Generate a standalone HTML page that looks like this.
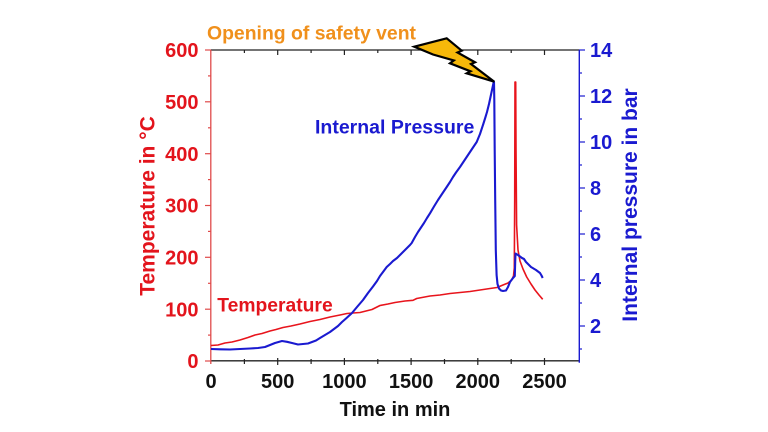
<!DOCTYPE html>
<html><head><meta charset="utf-8"><style>
html,body{margin:0;padding:0;background:#fff;}
svg{display:block;}
text{font-family:"Liberation Sans",Arial,sans-serif;font-weight:bold;}
</style></head><body>
<svg width="768" height="432" viewBox="0 0 768 432" xmlns="http://www.w3.org/2000/svg">
<rect width="768" height="432" fill="#fff"/>
<!-- top axis -->
<line x1="211" y1="50" x2="579.3" y2="50" stroke="#222" stroke-width="1.3"/>
<g stroke="#222" stroke-width="1.2">
<line x1="244.4" y1="50" x2="244.4" y2="53"/><line x1="277.7" y1="50" x2="277.7" y2="55"/>
<line x1="311.1" y1="50" x2="311.1" y2="53"/><line x1="344.4" y1="50" x2="344.4" y2="55"/>
<line x1="377.8" y1="50" x2="377.8" y2="53"/><line x1="411.1" y1="50" x2="411.1" y2="55"/>
<line x1="444.5" y1="50" x2="444.5" y2="53"/><line x1="477.8" y1="50" x2="477.8" y2="55"/>
<line x1="511.2" y1="50" x2="511.2" y2="53"/><line x1="544.5" y1="50" x2="544.5" y2="55"/>
</g>
<!-- bottom axis -->
<line x1="211" y1="360.8" x2="579.3" y2="360.8" stroke="#222" stroke-width="1.3"/>
<g stroke="#222" stroke-width="1.2">
<line x1="244.4" y1="359" x2="244.4" y2="364"/><line x1="277.7" y1="358" x2="277.7" y2="365"/>
<line x1="311.1" y1="359" x2="311.1" y2="364"/><line x1="344.4" y1="358" x2="344.4" y2="365"/>
<line x1="377.8" y1="359" x2="377.8" y2="364"/><line x1="411.1" y1="358" x2="411.1" y2="365"/>
<line x1="444.5" y1="359" x2="444.5" y2="364"/><line x1="477.8" y1="358" x2="477.8" y2="365"/>
<line x1="511.2" y1="359" x2="511.2" y2="364"/><line x1="544.5" y1="358" x2="544.5" y2="365"/>
</g>
<!-- left axis -->
<line x1="210.8" y1="50" x2="210.8" y2="364" stroke="#e04a4a" stroke-width="1.3"/>
<g stroke="#e04a4a" stroke-width="1.2">
<line x1="205" y1="50" x2="211" y2="50"/><line x1="208" y1="75.9" x2="211" y2="75.9"/>
<line x1="205" y1="101.8" x2="211" y2="101.8"/><line x1="208" y1="127.8" x2="211" y2="127.8"/>
<line x1="205" y1="153.7" x2="211" y2="153.7"/><line x1="208" y1="179.6" x2="211" y2="179.6"/>
<line x1="205" y1="205.5" x2="211" y2="205.5"/><line x1="208" y1="231.4" x2="211" y2="231.4"/>
<line x1="205" y1="257.3" x2="211" y2="257.3"/><line x1="208" y1="283.3" x2="211" y2="283.3"/>
<line x1="205" y1="309.2" x2="211" y2="309.2"/><line x1="208" y1="335.1" x2="211" y2="335.1"/>
<line x1="205" y1="361" x2="211" y2="361"/>
</g>
<!-- right axis -->
<line x1="579.3" y1="50" x2="579.3" y2="362.7" stroke="#1a1ad0" stroke-width="1.4"/>
<g stroke="#1a1ad0" stroke-width="1.2">
<line x1="579" y1="50" x2="585" y2="50"/><line x1="579" y1="73" x2="582" y2="73"/>
<line x1="579" y1="96" x2="585" y2="96"/><line x1="579" y1="119" x2="582" y2="119"/>
<line x1="579" y1="142" x2="585" y2="142"/><line x1="579" y1="165" x2="582" y2="165"/>
<line x1="579" y1="188" x2="585" y2="188"/><line x1="579" y1="211" x2="582" y2="211"/>
<line x1="579" y1="234" x2="585" y2="234"/><line x1="579" y1="257" x2="582" y2="257"/>
<line x1="579" y1="280" x2="585" y2="280"/><line x1="579" y1="303" x2="582" y2="303"/>
<line x1="579" y1="326" x2="585" y2="326"/><line x1="579" y1="349" x2="582" y2="349"/>
</g>
<!-- left tick labels -->
<g fill="#e3141c" font-size="20" text-anchor="end">
<text x="198.5" y="57.2">600</text><text x="198.5" y="109">500</text>
<text x="198.5" y="160.9">400</text><text x="198.5" y="212.7">300</text>
<text x="198.5" y="264.5">200</text><text x="198.5" y="316.4">100</text>
<text x="198.5" y="368.2">0</text>
</g>
<!-- right tick labels -->
<g fill="#1a1ad0" font-size="20" text-anchor="start">
<text x="590" y="57.2">14</text><text x="590" y="103.2">12</text>
<text x="590" y="149.2">10</text><text x="590" y="195.2">8</text>
<text x="590" y="241.2">6</text><text x="590" y="287.2">4</text>
<text x="590" y="333.2">2</text>
</g>
<!-- bottom tick labels -->
<g fill="#111" font-size="20" text-anchor="middle">
<text x="211" y="388">0</text><text x="277.7" y="388">500</text>
<text x="344.4" y="388">1000</text><text x="411.1" y="388">1500</text>
<text x="477.8" y="388">2000</text><text x="544.5" y="388">2500</text>
</g>
<text x="395" y="416" font-size="20" fill="#111" text-anchor="middle">Time in min</text>
<text transform="translate(154.5,206) rotate(-90)" font-size="21" fill="#e3141c" text-anchor="middle">Temperature in °C</text>
<text transform="translate(637,205) rotate(-90)" font-size="21" fill="#1a1ad0" text-anchor="middle">Internal pressure in bar</text>
<text x="207" y="39.3" font-size="19.4" fill="#f0901c">Opening of safety vent</text>
<text x="315" y="133.3" font-size="19.5" fill="#1a1ad0">Internal Pressure</text>
<text x="217.3" y="311.7" font-size="19.3" fill="#e3141c">Temperature</text>
<!-- temperature curve -->
<polyline fill="none" stroke="#e8141c" stroke-width="1.6" stroke-linejoin="round" points="211,345.5 218,345 225,343 232,342 240,340 248,337.5 255,335 262,333.5 270,331 276,329.5 283,327.5 291,326 300,324 310,321.5 320,319.5 330,317 340,315 347,313.5 353,313 360,312.5 366,311 372,309.5 380,305.5 388,304 395,302.5 405,301 413,300.3 416.7,298.5 430,296 440,295 450,293.5 460,292.5 470,291.5 480,290 490,288.5 497,287.5 503,285 508,283 511.7,280 513.5,276 514.3,268 514.7,200 515,82 515.7,82 516,150 516.6,225 518,250 520,261 523,269 526.7,277 531,284 535,290 539,295 542.7,299.3"/>
<!-- pressure curve -->
<polyline fill="none" stroke="#1a1ad0" stroke-width="2.1" stroke-linejoin="round" points="211,349 220,349.3 230,349.5 240,349 250,348.5 258,348 265,347 270,345 275,343 282,341 287,341.8 292,343 298,344.5 303,344 308,343.5 312,342 316,340.5 320,338 325,335 330,332 334,329 338,326 342,322 346,318.5 352,313 357,307 363,300 368,293 373,286.5 377,281 380,276 383,272 386.7,267 390,264 393,261 397,258 400,255 404,251 407,248 410,245 411.7,243 415,237 418,232 421,227.5 424,223 427,218 430,213.3 434,206.5 438,200 442,194 446.7,187 450,182 453,177 456,172.5 460,167 464,161 468,155 472,149 476.7,142 480,134 483.3,124 485.5,117 487,112 489,104 490.5,97 492,90 493.5,83 494,82 494.3,100 494.7,150 495.2,200 495.8,250 496.6,275 497.5,284 499,288.5 501,290.5 503,291 506,290.5 508,287 510,282 513,278 514.8,276 515.2,262 515.5,253.5 518,255 520,256.5 522,258 524,259 526,262 528,264 531,267 536,270 540,273 541.5,275.5 542.7,278"/>
<!-- lightning bolt -->
<polygon points="414.3,46.7 446.7,38.3 461.7,50.7 457.5,52.5 475,62.3 471,64 494.3,81.7 466.7,73.3 470.5,71.3 450,63.3 453.8,60.5 433,54.5" fill="#f6b80a" stroke="#000" stroke-width="2.2" stroke-linejoin="miter"/>
</svg>
</body></html>
